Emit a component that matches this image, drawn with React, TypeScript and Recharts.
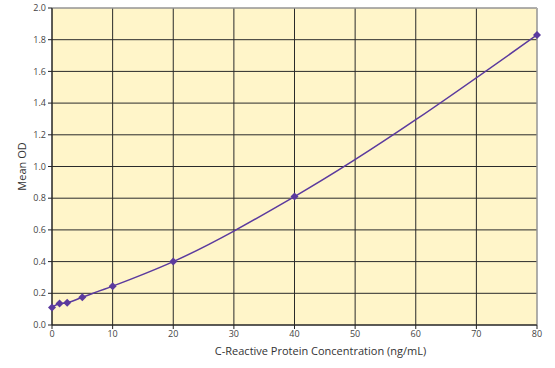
import { LineChart, Line, XAxis, YAxis, CartesianGrid, ReferenceLine } from 'recharts';

const concentration = [0, 1.25, 2.5, 5, 10, 20, 40, 80];
const meanOD = [0.11, 0.135, 0.14, 0.175, 0.245, 0.4, 0.81, 1.83];
const xTicks = [0, 10, 20, 30, 40, 50, 60, 70, 80];
const yTicks = [0, 0.2, 0.4, 0.6, 0.8, 1.0, 1.2, 1.4, 1.6, 1.8, 2.0];

const data = concentration.map((c, i) => ({ conc: c, od: meanOD[i] }));

const tickStyle = { fontSize: 9, fill: '#444', fontFamily: '"Open Sans", sans-serif' };

const Diamond = (props: any) => {
    const { cx, cy } = props;
    if (cx == null || cy == null) return null;
    const r = 4;
    return (
        <polygon
            points={`${cx},${cy - r} ${cx + r},${cy} ${cx},${cy + r} ${cx - r},${cy}`}
            fill="#5b3a9e"
            stroke="none"
        />
    );
};

export default function App() {
    return (
        <div style={{ position: 'absolute', left: 0, top: 0, width: 555, height: 368, background: '#fff' }}>
            <LineChart
                width={555}
                height={368}
                data={data}
                margin={{ top: 8, right: 18, bottom: 0, left: 0 }}
            >
                <CartesianGrid stroke="#2a2a2a" strokeWidth={1} fill="#fff5c9" fillOpacity={1} />
                <XAxis
                    type="number"
                    dataKey="conc"
                    domain={[0, 80]}
                    ticks={xTicks}
                    tick={tickStyle}
                    tickSize={4}
                    height={43}
                    stroke="#222"
                    interval={0}
                    label={{
                        value: 'C-Reactive Protein Concentration (ng/mL)',
                        position: 'insideBottom',
                        offset: 13,
                        dx: 26,
                        style: { fontSize: 11, fill: '#333', fontFamily: '"Open Sans", sans-serif' },
                    }}
                />
                <YAxis
                    type="number"
                    domain={[0, 2]}
                    ticks={yTicks}
                    tick={tickStyle}
                    tickSize={4}
                    width={52}
                    stroke="#222"
                    interval={0}
                    tickFormatter={(v: number) => v.toFixed(1)}
                    label={{
                        value: 'Mean OD',
                        angle: -90,
                        position: 'insideLeft',
                        offset: 22,
                        style: { fontSize: 11, fill: '#333', fontFamily: '"Open Sans", sans-serif', textAnchor: 'middle' },
                    }}
                />
                <ReferenceLine y={2} stroke="#c8c8c8" />
                <ReferenceLine x={80} stroke="#c8c8c8" />
                <Line
                    type="monotone"
                    dataKey="od"
                    stroke="#5b3a9e"
                    strokeWidth={1.5}
                    dot={<Diamond />}
                    activeDot={false}
                    isAnimationActive={false}
                />
            </LineChart>
        </div>
    );
}
